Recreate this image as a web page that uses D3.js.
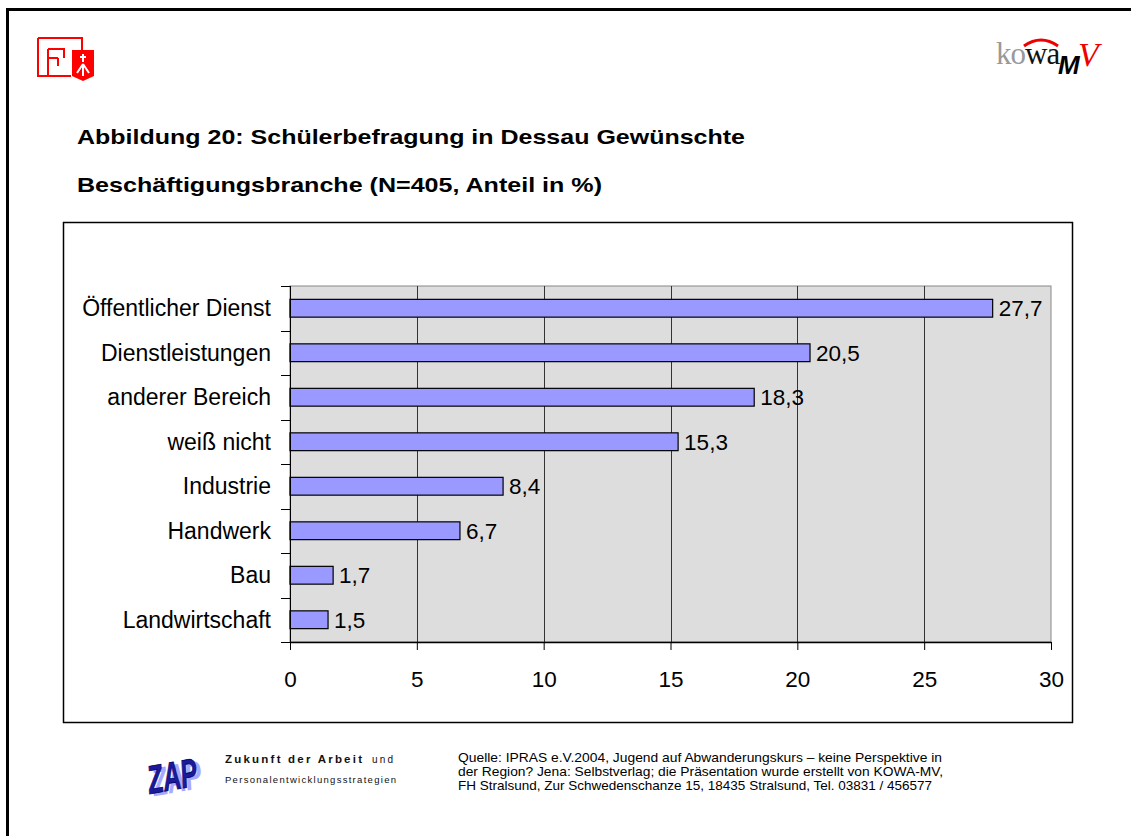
<!DOCTYPE html>
<html>
<head>
<meta charset="utf-8">
<script src="https://cdn.jsdelivr.net/npm/d3@7"></script>
<style>
  body { margin: 0; background: #fff; }
  svg { display: block; font-family: "Liberation Sans", Arial, sans-serif; }
</style>
</head>
<body>
<div id="chart"></div>
<script>
// data
var categories = ['Öffentlicher Dienst', 'Dienstleistungen', 'anderer Bereich',
  'weiß nicht', 'Industrie', 'Handwerk', 'Bau', 'Landwirtschaft'];
var shares = [27.7, 20.5, 18.3, 15.3, 8.4, 6.7, 1.7, 1.5];
var xTicks = [0, 5, 10, 15, 20, 25, 30];

var titleLines = [
  'Abbildung 20: Schülerbefragung in Dessau Gewünschte',
  'Beschäftigungsbranche (N=405, Anteil in %)'
];
var sourceLines = [
  'Quelle: IPRAS e.V.2004, Jugend auf Abwanderungskurs – keine Perspektive in',
  'der Region? Jena: Selbstverlag; die Präsentation wurde erstellt von KOWA-MV,',
  'FH Stralsund, Zur Schwedenschanze 15, 18435 Stralsund, Tel. 03831 / 456577'
];

var W = 1131, H = 836;
var plot = { left: 290, right: 1051, top: 286, bottom: 642 };

var svg = d3.select('#chart').append('svg')
  .attr('width', W)
  .attr('height', H);

// page frame (only top and left edges are in view)
svg.append('path')
  .attr('d', 'M7.5,' + H + 'V9.5H' + W)
  .attr('fill', 'none')
  .attr('stroke', '#000')
  .attr('stroke-width', 3);

// FH logo
var fh = svg.append('g').attr('fill', 'none').attr('stroke', '#f00').attr('stroke-width', 2);
fh.append('path').attr('d', 'M38,38H82V50 M38,38V76H71 M48,49H64V58 M48,49V58H58 M48,58V76 M58,58V66');
svg.append('path')
  .attr('d', 'M72,50H94V76L83,81L72,76Z')
  .attr('fill', '#f00');
svg.append('path')
  .attr('d', 'M83,54V62 M80,57H86 M83,64V76 M83,64L77,73 M83,64L89,73')
  .attr('stroke', '#fff')
  .attr('stroke-width', 2)
  .attr('fill', 'none');

// kowa MV logo
var kowa = svg.append('g').attr('font-family', '"Liberation Serif", "DejaVu Serif", serif');
kowa.append('text').attr('x', 996).attr('y', 64)
  .attr('font-size', 31)
  .attr('letter-spacing', -1)
  .selectAll('tspan')
  .data([['ko', '#999'], ['wa', '#111']])
  .join('tspan')
  .attr('fill', function (d) { return d[1]; })
  .text(function (d) { return d[0]; });
svg.append('path')
  .attr('d', 'M1024,46Q1041,34 1058,46')
  .attr('fill', 'none')
  .attr('stroke', '#e00')
  .attr('stroke-width', 3);
svg.append('text').attr('x', 1058).attr('y', 74)
  .attr('font-size', 26).attr('font-weight', 'bold').attr('font-style', 'italic')
  .attr('fill', '#000')
  .attr('font-family', '"Liberation Sans", sans-serif')
  .text('M');
svg.append('text').attr('x', 1078).attr('y', 66)
  .attr('font-size', 34).attr('font-style', 'italic')
  .attr('fill', '#e00')
  .attr('font-family', '"Liberation Serif", serif')
  .text('V');

// title
svg.append('g')
  .selectAll('text')
  .data(titleLines)
  .join('text')
  .attr('x', 77)
  .attr('y', function (d, i) { return 144 + i * 48; })
  .attr('font-size', 20.5)
  .attr('font-weight', 'bold')
  .attr('textLength', function (d, i) { return i === 0 ? 668 : 525; })
  .attr('lengthAdjust', 'spacingAndGlyphs')
  .text(function (d) { return d; });

// chart box
svg.append('rect')
  .attr('x', 63.5).attr('y', 222.5)
  .attr('width', 1009).attr('height', 500)
  .attr('fill', '#fff')
  .attr('stroke', '#000')
  .attr('stroke-width', 1.5);

var x = d3.scaleLinear().domain([0, 30]).range([plot.left, plot.right]);
var y = d3.scaleBand().domain(categories)
  .range([plot.top, plot.bottom])
  .paddingInner(0.6)
  .paddingOuter(0.3);

// plot area
svg.append('rect')
  .attr('x', plot.left).attr('y', plot.top)
  .attr('width', plot.right - plot.left).attr('height', plot.bottom - plot.top)
  .attr('fill', '#ddd')
  .attr('stroke', '#888')
  .attr('stroke-width', 1);

// vertical gridlines
svg.append('g')
  .selectAll('line')
  .data(xTicks.slice(1, -1))
  .join('line')
  .attr('x1', function (d) { return Math.round(x(d)) + 0.5; })
  .attr('x2', function (d) { return Math.round(x(d)) + 0.5; })
  .attr('y1', plot.top)
  .attr('y2', plot.bottom)
  .attr('stroke', '#333');

// bars
svg.append('g')
  .selectAll('rect')
  .data(shares)
  .join('rect')
  .attr('x', x(0))
  .attr('y', function (d, i) { return y(categories[i]); })
  .attr('width', function (d) { return x(d) - x(0); })
  .attr('height', y.bandwidth())
  .attr('fill', '#9999ff')
  .attr('stroke', '#000')
  .attr('stroke-width', 1.2);

// value labels
svg.append('g')
  .selectAll('text')
  .data(shares)
  .join('text')
  .attr('x', function (d) { return x(d) + 6; })
  .attr('y', function (d, i) { return y(categories[i]) + y.bandwidth() / 2 + 8; })
  .attr('font-size', 22.5)
  .text(function (d) { return String(d).replace('.', ','); });

// y axis: line, ticks at band boundaries, labels
var boundaries = categories.map(function (c) {
  return y(c) - y.step() * y.paddingOuter();
}).concat([plot.bottom]);

svg.append('line')
  .attr('x1', plot.left + 0.5).attr('x2', plot.left + 0.5)
  .attr('y1', plot.top).attr('y2', plot.bottom)
  .attr('stroke', '#000');
svg.append('g')
  .selectAll('line')
  .data(boundaries)
  .join('line')
  .attr('x1', plot.left - 9).attr('x2', plot.left)
  .attr('y1', function (d) { return Math.round(d) + 0.5; })
  .attr('y2', function (d) { return Math.round(d) + 0.5; })
  .attr('stroke', '#000');
svg.append('g')
  .selectAll('text')
  .data(categories)
  .join('text')
  .attr('x', 271)
  .attr('y', function (d) { return y(d) + y.bandwidth() / 2 + 8; })
  .attr('text-anchor', 'end')
  .attr('font-size', 23)
  .text(function (d) { return d; });

// x axis
var xAxis = svg.append('g')
  .attr('transform', 'translate(0,' + plot.bottom + ')')
  .call(d3.axisBottom(x).tickValues(xTicks).tickSize(8).tickSizeOuter(0).tickPadding(0));
xAxis.select('.domain').attr('stroke', '#000').attr('stroke-width', 1.5);
xAxis.selectAll('.tick line').attr('stroke', '#000');
xAxis.selectAll('.tick text')
  .attr('y', 45)
  .attr('dy', null)
  .attr('font-size', 22.5)
  .attr('font-family', '"Liberation Sans", Arial, sans-serif')
  .attr('fill', '#000');

// ZAP logo
var zap = svg.append('g').attr('transform', 'translate(150,794) rotate(-10)')
  .attr('font-family', '"Liberation Sans", sans-serif')
  .attr('font-weight', 'bold')
  .attr('font-style', 'italic')
  .attr('font-size', 40);
zap.append('text').attr('x', 4).attr('y', 3).attr('fill', '#a8a8ff')
  .attr('textLength', 50).attr('lengthAdjust', 'spacingAndGlyphs').text('ZAP');
zap.append('text').attr('x', 0).attr('y', 0).attr('fill', '#1a1a9a')
  .attr('stroke', '#000066').attr('stroke-width', 0.8)
  .attr('textLength', 50).attr('lengthAdjust', 'spacingAndGlyphs').text('ZAP');

// ZAP caption
var cap = svg.append('g').attr('fill', '#111');
cap.append('text').attr('x', 225).attr('y', 763)
  .attr('font-size', 11.5).attr('font-weight', 'bold')
  .attr('textLength', 137).attr('lengthAdjust', 'spacing')
  .text('Zukunft der Arbeit');
cap.append('text').attr('x', 372).attr('y', 763)
  .attr('font-size', 10)
  .attr('textLength', 21).attr('lengthAdjust', 'spacing')
  .text('und');
cap.append('text').attr('x', 225).attr('y', 783)
  .attr('font-size', 9.5)
  .attr('textLength', 171).attr('lengthAdjust', 'spacing')
  .text('Personalentwicklungsstrategien');

// source
svg.append('g')
  .selectAll('text')
  .data(sourceLines)
  .join('text')
  .attr('x', 458)
  .attr('y', function (d, i) { return 762 + i * 14; })
  .attr('font-size', 13.5)
  .attr('textLength', function (d, i) { return [484, 485, 474][i]; })
  .attr('lengthAdjust', 'spacingAndGlyphs')
  .text(function (d) { return d; });
</script>
</body>
</html>
